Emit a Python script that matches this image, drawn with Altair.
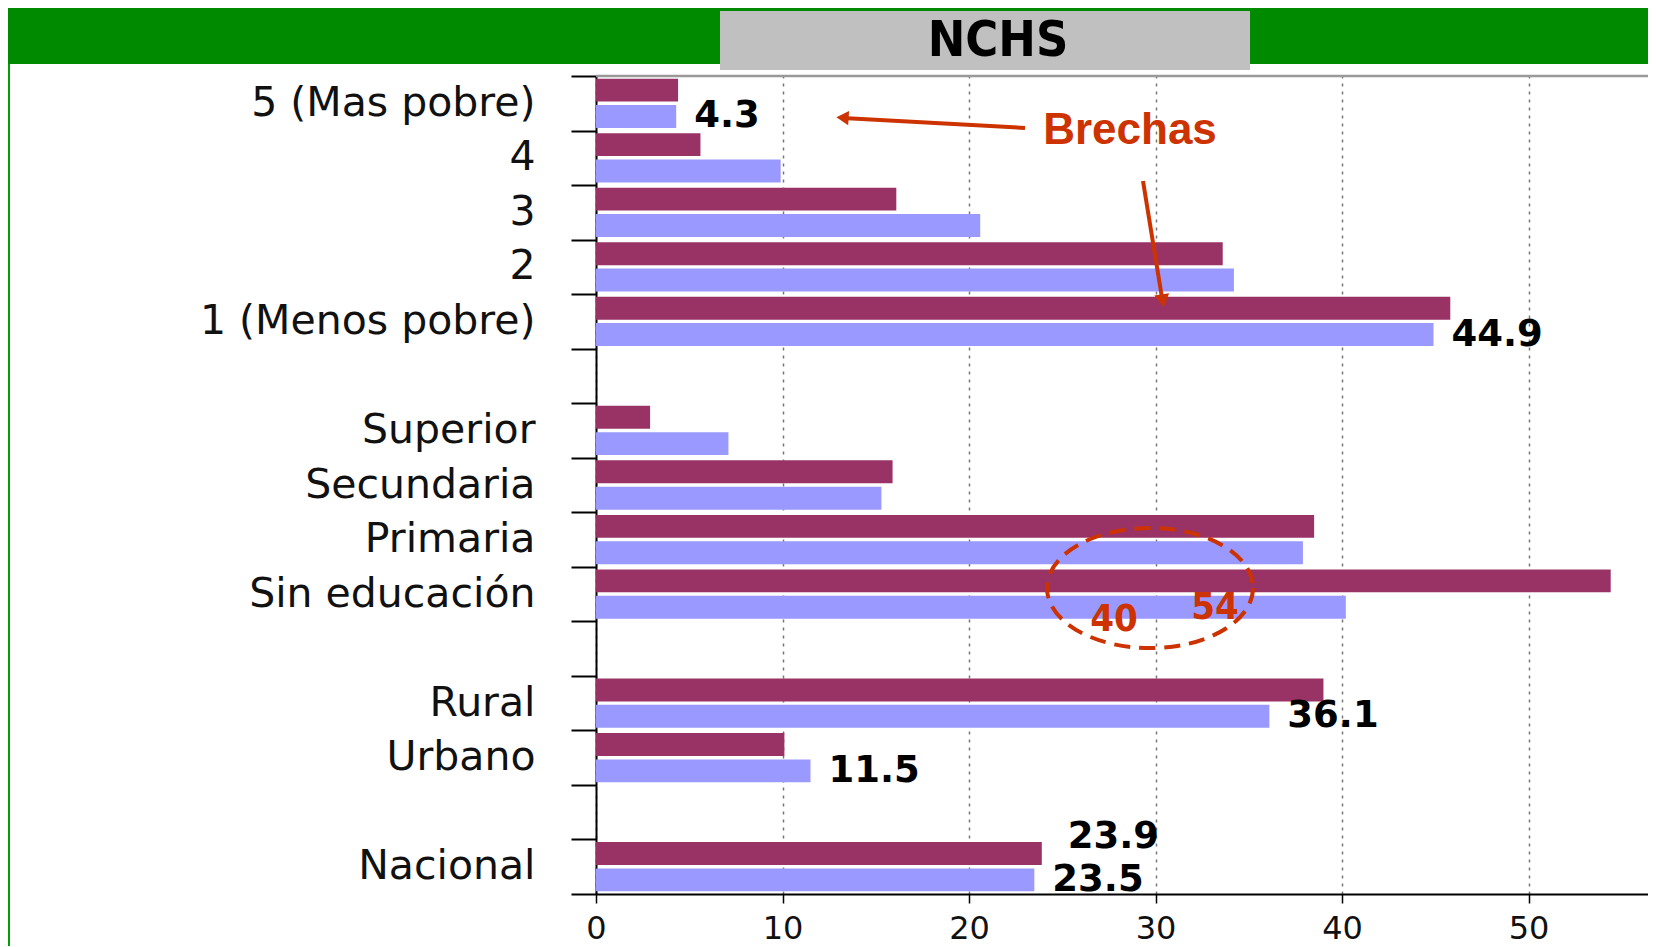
import altair as alt
import pandas as pd

# ---------------- data ----------------
categorias = ["5 (Mas pobre)", "4", "3", "2", "1 (Menos pobre)", " ",
              "Superior", "Secundaria", "Primaria", "Sin educación", "  ",
              "Rural", "Urbano", "   ", "Nacional"]
grupos = ["5 (Mas pobre)", "4", "3", "2", "1 (Menos pobre)",
          "Superior", "Secundaria", "Primaria", "Sin educación",
          "Rural", "Urbano", "Nacional"]
series = ["Serie 1", "Serie 2"]
valores_serie1 = [4.4, 5.6, 16.1, 33.6, 45.8, 2.9, 15.9, 38.5, 54.4, 39.0, 10.1, 23.9]
valores_serie2 = [4.3, 9.9, 20.6, 34.2, 44.9, 7.1, 15.3, 37.9, 40.2, 36.1, 11.5, 23.5]
etiquetas_serie1 = ["", "", "", "", "", "", "", "", "", "", "", "23.9"]
etiquetas_serie2 = ["4.3", "", "", "", "44.9", "", "", "", "", "36.1", "11.5", "23.5"]
colores = ["#993366", "#9999ff"]
x_ticks = [0, 10, 20, 30, 40, 50]
titulo = "NCHS"
anotacion = "Brechas"
circulo_textos = ["40", "54"]

rows = []
for g, v1, v2, e1, e2 in zip(grupos, valores_serie1, valores_serie2, etiquetas_serie1, etiquetas_serie2):
    rows.append({"categoria": g, "serie": series[0], "valor": v1, "etiqueta": e1})
    rows.append({"categoria": g, "serie": series[1], "valor": v2, "etiqueta": e2})
df = pd.DataFrame(rows)
one = pd.DataFrame({"k": [0]})

W, H = 1052, 818
BOTTOM = 52
RED = "#cc3300"
GREEN = "#008a00"
NARROW = "'Liberation Sans Narrow', 'DejaVu Sans Condensed', 'Arial Narrow', 'Liberation Sans', sans-serif"

x_enc = alt.X("valor:Q", scale=alt.Scale(domain=[0, 56.4], nice=False),
              axis=alt.Axis(values=x_ticks, grid=True, gridDash=[3, 5], gridColor="#777777",
                            gridWidth=1.5, domainColor="#000000", domainWidth=2,
                            tickColor="#000000", tickWidth=1.5, tickSize=9,
                            labelFont="DejaVu Sans", labelFontSize=32, labelColor="#111111",
                            labelPadding=10, labelFlush=False, format="d", title=None))
y_enc = alt.Y("categoria:N", sort=categorias,
              scale=alt.Scale(domain=categorias, paddingInner=0, paddingOuter=0),
              axis=alt.Axis(title=None, tickBand="extent", tickSize=25, tickColor="#000000",
                            tickWidth=2, domainColor="#000000", domainWidth=2,
                            labelFont="DejaVu Sans", labelFontSize=41, labelColor="#111111",
                            labelPadding=36, labelLimit=700, grid=False))
yoff = alt.YOffset("serie:N", scale=alt.Scale(domain=series, paddingInner=0.13, paddingOuter=0.1))

base = alt.Chart(df)
bars = base.mark_bar().encode(
    x=x_enc, y=y_enc, yOffset=yoff,
    color=alt.Color("serie:N", scale=alt.Scale(domain=series, range=colores), legend=None),
)
lab2 = base.transform_filter(
    "datum.etiqueta != '' && datum.serie == 'Serie 2'"
).mark_text(align="left", baseline="middle", dx=18, font="DejaVu Sans",
            fontWeight="bold", fontSize=37, color="#000000").encode(
    x=x_enc, y=y_enc, yOffset=yoff, text="etiqueta:N")
lab1 = base.transform_filter(
    "datum.etiqueta != '' && datum.serie == 'Serie 1'"
).mark_text(align="left", baseline="middle", dx=26, dy=-17, font="DejaVu Sans",
            fontWeight="bold", fontSize=37, color="#000000").encode(
    x=x_enc, y=y_enc, yOffset=yoff, text="etiqueta:N")

deco = alt.Chart(one)
green_band = deco.mark_rect(color=GREEN).encode(
    x=alt.value(-588), x2=alt.value(W), y=alt.value(-68), y2=alt.value(-12))
green_strip = deco.mark_rect(color="#00a000").encode(
    x=alt.value(-588), x2=alt.value(-586), y=alt.value(-12), y2=alt.value(H + BOTTOM))
gray_box = deco.mark_rect(color="#c0c0c0").encode(
    x=alt.value(124), x2=alt.value(654), y=alt.value(-65), y2=alt.value(-6))
title_txt = deco.mark_text(
    font=NARROW, fontWeight="bold", fontSize=50, color="#000000", align="center", baseline="middle"
).encode(x=alt.value(402), y=alt.value(-35), text=alt.value(titulo))
top_line = deco.mark_rule(color="#999999", strokeWidth=2.5).encode(
    x=alt.value(0), x2=alt.value(W), y=alt.value(0))

brechas = deco.mark_text(font="Liberation Sans", fontWeight="bold", fontSize=44, color=RED,
                         align="center", baseline="middle").encode(
    x=alt.value(534), y=alt.value(55), text=alt.value(anotacion))
arrow1 = deco.mark_rule(color=RED, strokeWidth=4).encode(
    x=alt.value(429), y=alt.value(52), x2=alt.value(247), y2=alt.value(42))
head1 = deco.mark_point(shape="triangle-left", filled=True, color=RED, size=200, angle=3.6,
                        opacity=1).encode(x=alt.value(246.5), y=alt.value(41.7))
arrow2 = deco.mark_rule(color=RED, strokeWidth=4).encode(
    x=alt.value(547), y=alt.value(105), x2=alt.value(566.5), y2=alt.value(225))
head2 = deco.mark_point(shape="triangle-down", filled=True, color=RED, size=225, angle=351.3,
                        opacity=1).encode(x=alt.value(566.7), y=alt.value(224.9))

ellipse_path = ("M 1 0 C 1 0.322 0.552 0.583 0 0.583 C -0.552 0.583 -1 0.322 -1 0 "
                "C -1 -0.322 -0.552 -0.583 0 -0.583 C 0.552 -0.583 1 -0.322 1 0 Z")
ellipse = deco.mark_point(shape=ellipse_path, filled=False, color=RED, strokeWidth=4,
                          strokeDash=[16, 9], size=42436, opacity=1).encode(
    x=alt.value(554), y=alt.value(512))
txt40 = deco.mark_text(
    font=NARROW, fontWeight="bold", fontSize=38, color=RED, align="center", baseline="middle"
).encode(x=alt.value(518), y=alt.value(544), text=alt.value(circulo_textos[0]))
txt54 = deco.mark_text(
    font=NARROW, fontWeight="bold", fontSize=38, color=RED, align="center", baseline="middle"
).encode(x=alt.value(619), y=alt.value(532), text=alt.value(circulo_textos[1]))

chart = alt.layer(
    bars, lab2, lab1, top_line, green_band, green_strip, gray_box, title_txt,
    brechas, arrow1, head1, arrow2, head2, ellipse, txt40, txt54
).properties(
    width=W, height=H,
    padding={"left": 588, "top": 68, "right": 0, "bottom": BOTTOM},
    autosize=alt.AutoSizeParams(type="none"),
    background="white",
).configure_view(stroke=None)

chart.save("out.html", embed_options={"renderer": "svg", "actions": False})
